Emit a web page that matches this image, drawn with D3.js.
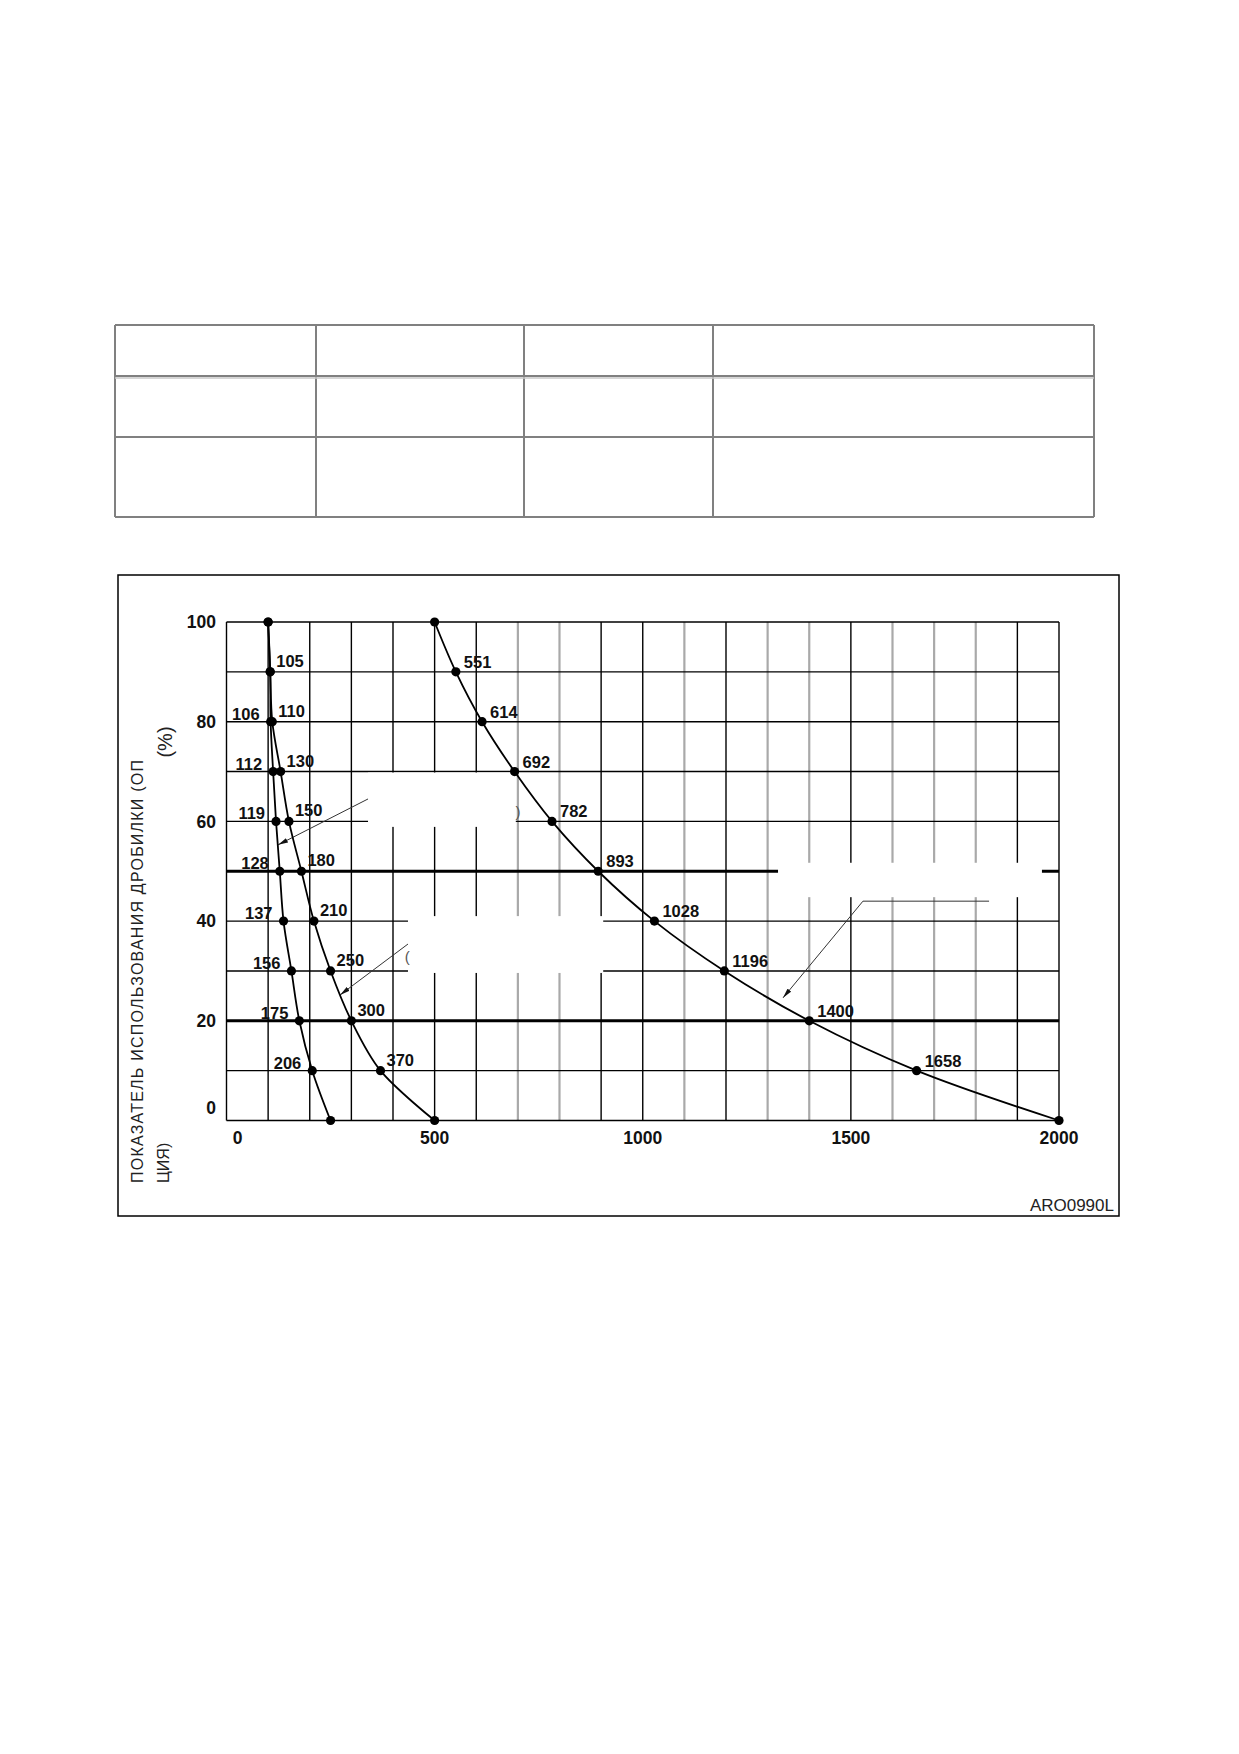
<!DOCTYPE html>
<html><head><meta charset="utf-8">
<script src="https://cdn.jsdelivr.net/npm/d3@7"></script>
<style>body{margin:0;background:#fff} svg{display:block}</style>
</head><body>
<svg id="c" width="1239" height="1754"></svg>
<script>
// ---------- data ----------
const levels = [100, 90, 80, 70, 60, 50, 40, 30, 20, 10, 0];
const curveA = [100, 105, 106, 112, 119, 128, 137, 156, 175, 206, 250];
const curveB = [100, 105, 110, 130, 150, 180, 210, 250, 300, 370, 500];
const curveC = [500, 551, 614, 692, 782, 893, 1028, 1196, 1400, 1658, 2000];
const labelIdxA = [2, 3, 4, 5, 6, 7, 8, 9];
const labelIdxB = [1, 2, 3, 4, 5, 6, 7, 8, 9];
const labelIdxC = [1, 2, 3, 4, 5, 6, 7, 8, 9];
const xTicks = [0, 500, 1000, 1500, 2000];
const yTicks = [0, 20, 40, 60, 80, 100];
const xGrid = d3.range(0, 2001, 100);
const grayGrid = [700, 800, 1100, 1300, 1400, 1600, 1700, 1800];
const yGrid = d3.range(0, 101, 10);
const boldGrid = [50, 20];
const yTitle = ["ПОКАЗАТЕЛЬ ИСПОЛЬЗОВАНИЯ ДРОБИЛКИ (ОП", "ЦИЯ)"];
const yUnit = "(%)";
const figCode = "ARO0990L";
// blanked-out callout areas (data units)
const masks = [
  {x0: 340, x1: 695, y0: 58.9, y1: 69.8},
  {x0: 1325, x1: 1959, y0: 44.8, y1: 51.7},
  {x0: 436, x1: 905, y0: 29.6, y1: 41.0}
];
// callout leader lines (data units)
const leaders = [
  [[340, 64.5], [124, 55.3]],
  [[436, 35.4], [273, 25.2]],
  [[1832, 44.0], [1529, 44.0], [1337, 24.6]]
];
const remnants = [{t: ")", x: 700, y: 61.9}, {t: "(", x: 434, y: 32.8}];

// ---------- layout ----------
const svg = d3.select("#c");
const FONT = "'Liberation Sans', Arial, Helvetica, sans-serif";
const x = d3.scaleLinear([0, 2000], [226.5, 1059]);
const y = d3.scaleLinear([0, 100], [1120.5, 622]);

// empty table above chart
const tCols = [115, 316, 524, 713, 1094];
const tRows = [325, 376, 437, 517];
const tg = svg.append("g").attr("stroke", "#808080").attr("stroke-width", 2).attr("fill", "none");
tg.selectAll("line.r").data(tRows).join("line")
  .attr("x1", tCols[0]).attr("x2", tCols[tCols.length - 1])
  .attr("y1", d => d).attr("y2", d => d);
tg.selectAll("line.c").data(tCols).join("line")
  .attr("y1", tRows[0]).attr("y2", tRows[tRows.length - 1])
  .attr("x1", d => d).attr("x2", d => d);
tg.append("line").attr("x1", tCols[0]).attr("x2", tCols[tCols.length - 1])
  .attr("y1", tRows[1] + 2).attr("y2", tRows[1] + 2).attr("stroke", "#c8c8c8").attr("stroke-width", 1.5);

// frame
svg.append("rect").attr("x", 118).attr("y", 575).attr("width", 1001).attr("height", 641)
  .attr("fill", "none").attr("stroke", "#000").attr("stroke-width", 1.5);

// grid
const g = svg.append("g");
g.selectAll("line.v").data(xGrid).join("line")
  .attr("x1", d => x(d)).attr("x2", d => x(d))
  .attr("y1", y(0)).attr("y2", y(100))
  .attr("stroke", d => grayGrid.includes(d) ? "#a9a9a9" : "#000")
  .attr("stroke-width", d => grayGrid.includes(d) ? 2.2 : 1.4);
g.selectAll("line.h").data(yGrid).join("line")
  .attr("x1", x(0)).attr("x2", x(2000))
  .attr("y1", d => y(d)).attr("y2", d => y(d))
  .attr("stroke", "#000")
  .attr("stroke-width", d => boldGrid.includes(d) ? 3 : 1.4);

// white masks
g.selectAll("rect.m").data(masks).join("rect")
  .attr("x", d => x(d.x0)).attr("y", d => y(d.y1))
  .attr("width", d => x(d.x1) - x(d.x0)).attr("height", d => y(d.y0) - y(d.y1))
  .attr("fill", "#fff");

// leader lines with arrowheads
svg.append("defs").append("marker").attr("id", "ah")
  .attr("viewBox", "0 -3 10 6").attr("refX", 10).attr("refY", 0)
  .attr("markerWidth", 10).attr("markerHeight", 6).attr("markerUnits", "userSpaceOnUse")
  .attr("orient", "auto")
  .append("path").attr("d", "M0,-2.4L10,0L0,2.4Z").attr("fill", "#111");
const lline = d3.line().x(d => x(d[0])).y(d => y(d[1]));
svg.selectAll("path.ld").data(leaders).join("path")
  .attr("d", lline).attr("fill", "none").attr("stroke", "#333").attr("stroke-width", 1)
  .attr("marker-end", "url(#ah)");
svg.selectAll("text.rem").data(remnants).join("text")
  .attr("x", d => x(d.x)).attr("y", d => y(d.y)).attr("dy", "0.35em")
  .attr("text-anchor", "middle").attr("font-family", FONT).attr("font-size", 15)
  .attr("fill", "#555").text(d => d.t);

// curves
const series = [curveA, curveB, curveC];
const line = d3.line().x(d => x(d[0])).y(d => y(d[1])).curve(d3.curveCatmullRom.alpha(0.5));
svg.selectAll("path.cv").data(series).join("path")
  .attr("d", s => line(s.map((v, i) => [v, levels[i]])))
  .attr("fill", "none").attr("stroke", "#000").attr("stroke-width", 1.8);
series.forEach(s => {
  svg.append("g").selectAll("circle").data(s.map((v, i) => [v, levels[i]])).join("circle")
    .attr("cx", d => x(d[0])).attr("cy", d => y(d[1])).attr("r", 4.6).attr("fill", "#000");
});

// point labels
function labels(s, idx, anchor, dx, dy) {
  svg.append("g").selectAll("text").data(idx).join("text")
    .attr("x", i => x(s[i]) + dx).attr("y", i => y(levels[i]) + dy)
    .attr("text-anchor", anchor).attr("font-family", FONT).attr("font-size", 16.5)
    .attr("font-weight", "bold").attr("fill", "#111").text(i => s[i]);
}
labels(curveA, labelIdxA, "end", -11, -2);
labels(curveB, labelIdxB, "start", 6, -5);
labels(curveC, labelIdxC, "start", 8, -4);

// axis tick labels
svg.append("g").selectAll("text").data(yTicks).join("text")
  .attr("x", x(0) - 10.5).attr("y", d => y(d) + (d === 0 ? -13 : 0)).attr("dy", "0.36em")
  .attr("text-anchor", "end").attr("font-family", FONT).attr("font-size", 17.5)
  .attr("font-weight", "bold").attr("fill", "#111").text(d => d);
svg.append("g").selectAll("text").data(xTicks).join("text")
  .attr("x", d => x(d) + (d === 0 ? 11 : 0)).attr("y", y(0) + 17).attr("dy", "0.36em")
  .attr("text-anchor", "middle").attr("font-family", FONT).attr("font-size", 17.5)
  .attr("font-weight", "bold").attr("fill", "#111").text(d => d);

// y title
svg.append("text").attr("transform", "translate(137.5,1183) rotate(-90)")
  .attr("dy", "0.36em").attr("font-family", FONT).attr("font-size", 16)
  .attr("textLength", 423).attr("lengthAdjust", "spacing").attr("fill", "#222").text(yTitle[0]);
svg.append("text").attr("transform", "translate(163,1183) rotate(-90)")
  .attr("dy", "0.36em").attr("font-family", FONT).attr("font-size", 16)
  .attr("fill", "#222").text(yTitle[1]);
svg.append("text").attr("transform", "translate(165,742) rotate(-90)")
  .attr("dy", "0.36em").attr("text-anchor", "middle").attr("font-family", FONT).attr("font-size", 20)
  .attr("fill", "#222").text(yUnit);

// figure code
svg.append("text").attr("x", 1114).attr("y", 1211).attr("text-anchor", "end")
  .attr("font-family", FONT).attr("font-size", 17).attr("fill", "#222").text(figCode);
</script>
</body></html>
